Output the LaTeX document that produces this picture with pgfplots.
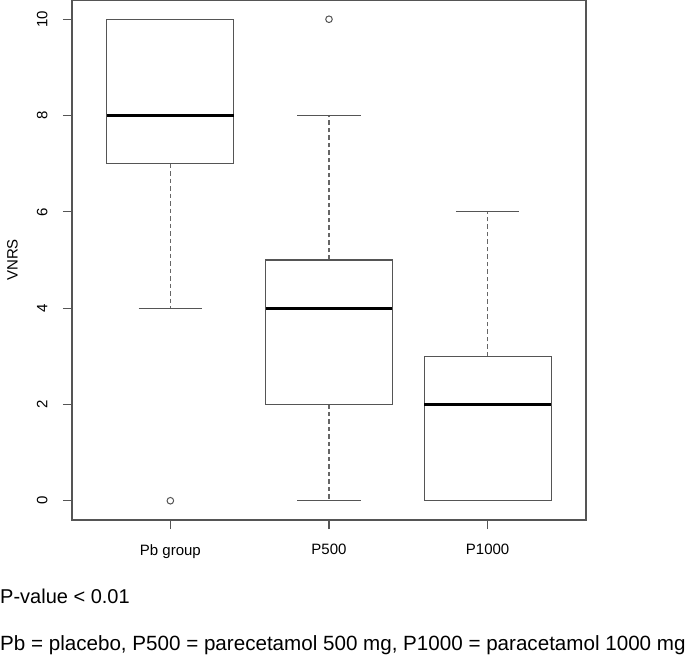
\documentclass[border=0pt]{standalone}
\usepackage{fontspec}
\setmainfont{Liberation Sans}
\usepackage{pgfplots}
\pgfplotsset{compat=1.18}
\usepgfplotslibrary{statistics}

\definecolor{rline}{HTML}{555555}
\definecolor{rdash}{HTML}{666666}

% R-style boxplot pieces
\pgfplotsset{
  rbox/.style={
    boxplot/draw direction=y,
    boxplot/box extend=0.8,
    mark=o, mark size=3.3bp,
    mark options={solid, draw=rline, line width=1bp},
    boxplot/draw/box/.code={
      \draw[rline, line width=1.1bp]
        (boxplot box cs:\pgfplotsboxplotvalue{lower quartile},0) rectangle
        (boxplot box cs:\pgfplotsboxplotvalue{upper quartile},1);
    },
    boxplot/draw/median/.code={
      \draw[black, line width=3.2bp]
        (boxplot box cs:\pgfplotsboxplotvalue{median},0) --
        (boxplot box cs:\pgfplotsboxplotvalue{median},1);
    },
    boxplot/draw/lower whisker/.code={
      \draw[rdash, line width=1.1bp, dash pattern=on 4.5bp off 3bp]
        (boxplot box cs:\pgfplotsboxplotvalue{lower quartile},0.5) --
        (boxplot box cs:\pgfplotsboxplotvalue{lower whisker},0.5);
      \draw[rline, line width=1.1bp]
        (boxplot box cs:\pgfplotsboxplotvalue{lower whisker},0.25) --
        (boxplot box cs:\pgfplotsboxplotvalue{lower whisker},0.75);
    },
    boxplot/draw/upper whisker/.code={
      \draw[rdash, line width=1.1bp, dash pattern=on 4.5bp off 3bp]
        (boxplot box cs:\pgfplotsboxplotvalue{upper quartile},0.5) --
        (boxplot box cs:\pgfplotsboxplotvalue{upper whisker},0.5);
      \draw[rline, line width=1.1bp]
        (boxplot box cs:\pgfplotsboxplotvalue{upper whisker},0.25) --
        (boxplot box cs:\pgfplotsboxplotvalue{upper whisker},0.75);
    },
  },
}

\begin{document}
\begin{tikzpicture}
\useasboundingbox (0,0) rectangle (685bp,655bp);
\begin{axis}[
    at={(72bp,135bp)}, anchor=south west,
    scale only axis,
    width=514bp, height=520bp,
    xmin=0.38, xmax=3.62,
    ymin=-0.4, ymax=10.4,
    xtick={1,2,3},
    xticklabels={Pb group,P500,P1000},
    ytick={0,2,4,6,8,10},
    yticklabels={0,2,4,6,8,10},
    xtick pos=bottom, ytick pos=left,
    tick align=outside,
    major tick length=9bp,
    tick style={rline, line width=1.1bp},
    axis line style={rline, line width=1.1bp},
    ticklabel style={font=\fontsize{15bp}{18bp}\selectfont},
    yticklabel style={rotate=90, anchor=south},
    yticklabel shift=12bp,
    xticklabel style={anchor=north},
    xticklabel shift=12bp,
    ylabel={VNRS},
    every axis y label/.style={at={(axis description cs:-0.1158,0.5)},
        rotate=90, anchor=center, font=\fontsize{15bp}{18bp}\selectfont},
]

% Pb group
\addplot[rbox, boxplot prepared={draw position=1,
    lower whisker=4, lower quartile=7, median=8,
    upper quartile=10, upper whisker=10}]
    table[row sep=\\, y index=0] {0\\};

% P500
\addplot[rbox, boxplot prepared={draw position=2,
    lower whisker=0, lower quartile=2, median=4,
    upper quartile=5, upper whisker=8}]
    table[row sep=\\, y index=0] {10\\};

% P1000
\addplot[rbox, boxplot prepared={draw position=3,
    lower whisker=0, lower quartile=0, median=2,
    upper quartile=3, upper whisker=6}]
    coordinates {};

\end{axis}

\node[anchor=base west, inner sep=0, font=\fontsize{20bp}{24bp}\selectfont]
    at (0bp,51.7bp) {P-value < 0.01};
\node[anchor=base west, inner sep=0, font=\fontsize{20.6bp}{24bp}\selectfont]
    at (0bp,4.5bp) {Pb = placebo, P500 = parecetamol 500 mg, P1000 = paracetamol 1000 mg};
\end{tikzpicture}
\end{document}
